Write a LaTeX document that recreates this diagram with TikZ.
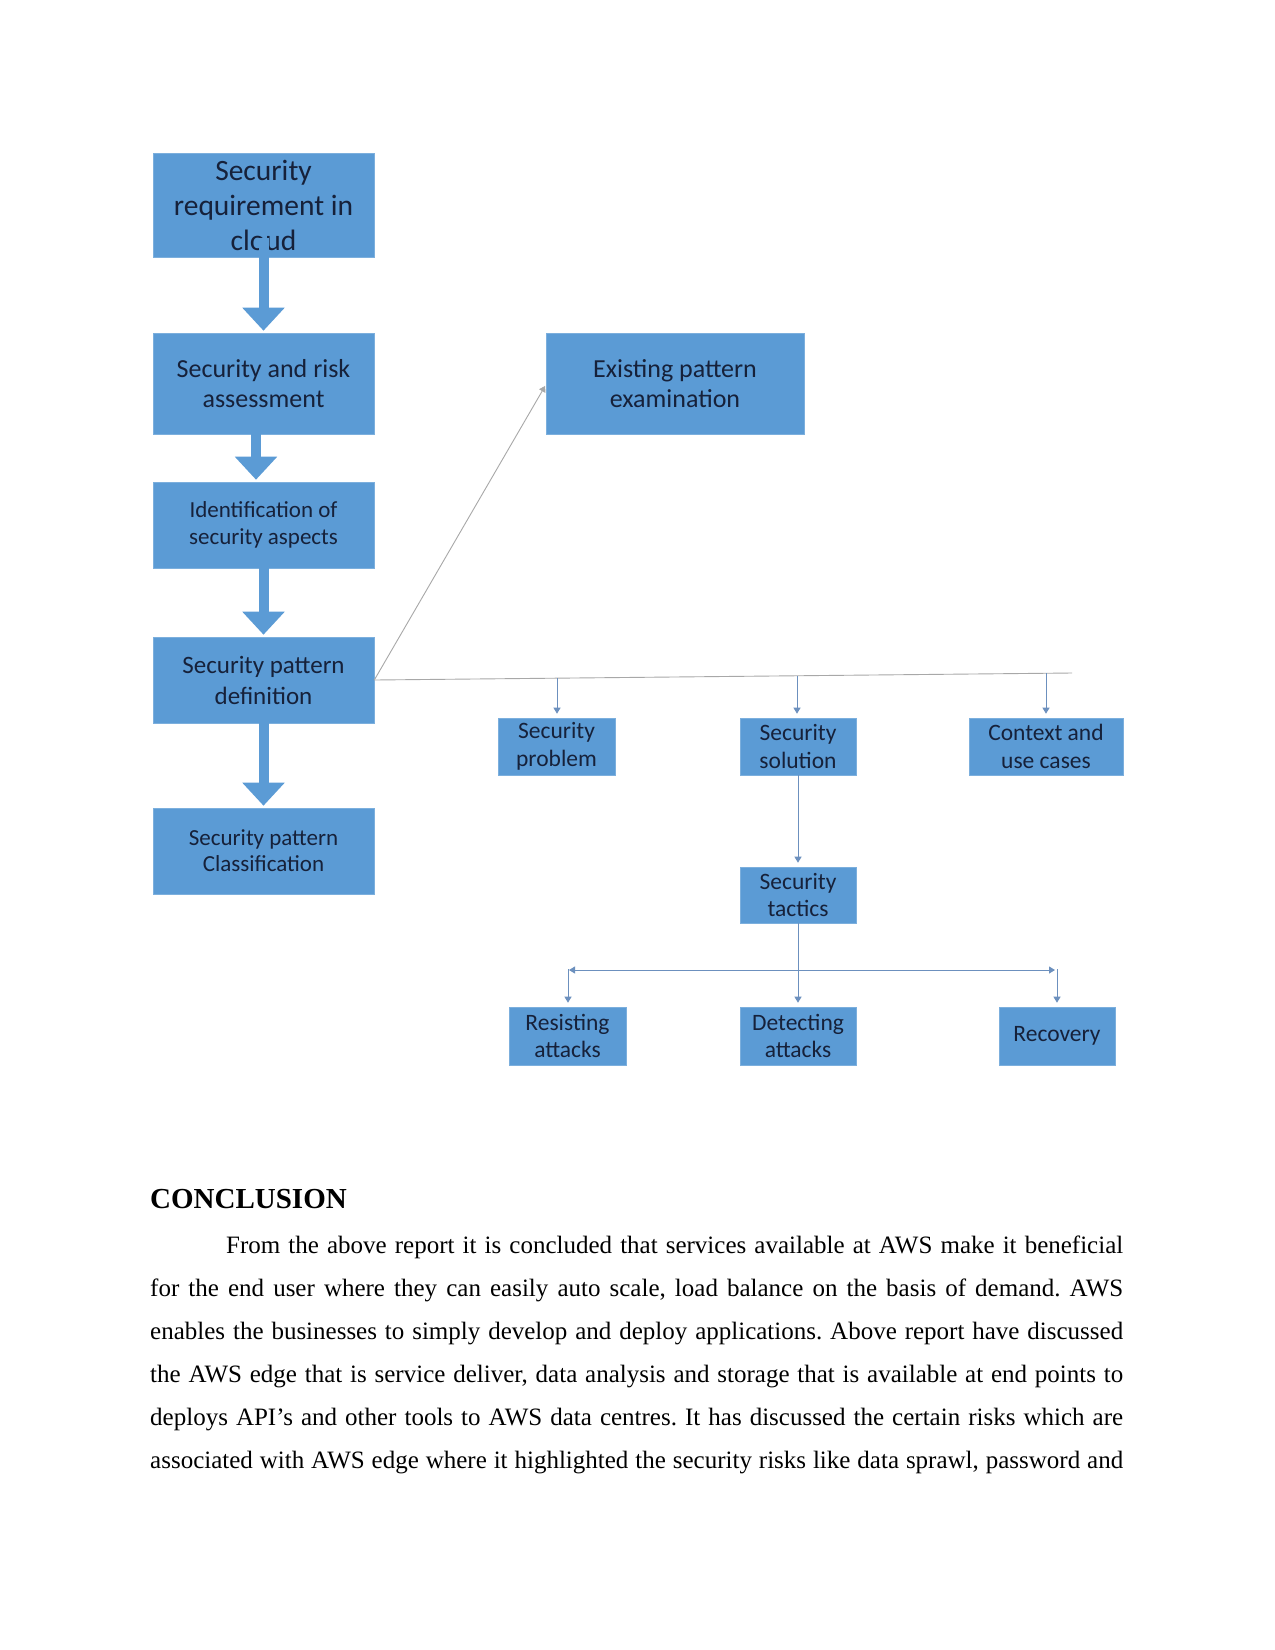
\documentclass[tikz,border=0pt]{standalone}
\usepackage{fontspec}
\setmainfont{Liberation Serif}
\newfontfamily\boxfont{Carlito}
\usetikzlibrary{arrows.meta}
\definecolor{boxblue}{HTML}{5B9BD5}
\definecolor{boxtext}{HTML}{16213A}
\definecolor{connblue}{HTML}{6C90BE}
\definecolor{conngray}{HTML}{A8A8A8}
\frenchspacing
\tikzset{
  box/.style={rectangle, fill=boxblue, draw=boxblue!80!white, line width=0.6pt,
    inner sep=0pt, align=center, text=boxtext},
  lbox/.style={box, minimum width=221pt},
  sbox/.style={box, minimum height=57pt, font=\boxfont\fontsize{23.5}{27.5}\selectfont},
  bigarr/.style={draw=boxblue, line width=10pt,
    -{Triangle[width=41pt,length=23pt]}},
  conn/.style={draw=connblue, line width=1pt,
    -{Triangle[width=7pt,length=6pt]}},
  gline/.style={draw=conngray, line width=0.9pt},
  bodyline/.style={anchor=base west, inner sep=0pt,
    font=\fontsize{25}{43}\selectfont}
}
\begin{document}
\begin{tikzpicture}[x=1pt,y=-1pt]
\useasboundingbox[fill=white] (0,0) rectangle (1275,1650);

% left column
\node[lbox, minimum height=104pt, font=\boxfont\fontsize{29.5}{35}\selectfont] (b1) at (263.5,205)
  {Security\\requirement in\\cloud};
\node[lbox, minimum height=101pt, font=\boxfont\fontsize{26}{30.5}\selectfont] (b2) at (263.5,383.5)
  {Security and risk\\assessment};
\node[lbox, minimum height=86pt, font=\boxfont\fontsize{23}{27}\selectfont] (b3) at (263.5,525)
  {Identification of\\security aspects};
\node[lbox, minimum height=86pt, font=\boxfont\fontsize{25}{31}\selectfont] (b4) at (263.5,680)
  {Security pattern\\definition};
\node[lbox, minimum height=86pt, font=\boxfont\fontsize{23}{26}\selectfont] (b5) at (263.5,851)
  {Security pattern\\Classification};

% existing pattern
\node[box, minimum width=258pt, minimum height=101pt, font=\boxfont\fontsize{26}{30.5}\selectfont] (ex) at (675,383.5)
  {Existing pattern\\examination};

% second level
\node[sbox, minimum width=117pt] (sp) at (556.5,746.5) {Security\\problem};
\node[sbox, minimum width=116pt] (ss) at (798,746.5) {Security\\solution};
\node[sbox, minimum width=154pt] (cu) at (1046,746.5) {Context and\\use cases};
\node[sbox, minimum width=116pt, minimum height=56pt] (st) at (798,895) {Security\\tactics};
\node[sbox, minimum width=117pt, minimum height=58pt] (ra) at (567.5,1036) {Resisting\\attacks};
\node[sbox, minimum width=116pt, minimum height=58pt] (da) at (798,1036) {Detecting\\attacks};
\node[sbox, minimum width=116pt, minimum height=58pt] (rc) at (1057,1036) {Recovery};

% big arrows
\draw[bigarr] ([yshift=19pt]b1.south) -- ([yshift=2pt]b2.north);
\draw[bigarr] ([xshift=-7.5pt]b2.south) -- ([xshift=-7.5pt,yshift=2pt]b3.north);
\draw[bigarr] (b3.south) -- ([yshift=2pt]b4.north);
\draw[bigarr] (b4.south) -- ([yshift=2pt]b5.north);

% connectors from definition
\coordinate (hend) at (1072,673);
\coordinate (d1) at (557,678.2);
\coordinate (d2) at (797,675.8);
\coordinate (d3) at (1046,673.3);
\draw[gline] (b4.east) -- (hend);
\draw[gline, -{Triangle[width=7pt,length=6pt]}, shorten >=1pt] (b4.east) -- ([yshift=-1.5pt]ex.west);
\draw[conn, shorten >=4pt] (d1) -- (d1 |- sp.north);
\draw[conn, shorten >=4pt] (d2) -- (d2 |- ss.north);
\draw[conn, shorten >=4pt] (d3) -- (d3 |- cu.north);

% tactics
\draw[conn, shorten >=4pt] (ss.south) -- (st.north);
\draw[conn, shorten >=4pt] (st.south) -- (da.north);
\coordinate (hl) at (569,970);
\coordinate (hr) at (1055,970);
\coordinate (vl) at (568,969);
\coordinate (vr) at (1057,969);
\draw[conn, {Triangle[width=7pt,length=6pt]}-{Triangle[width=7pt,length=6pt]}] (hl) -- (hr);
\draw[conn, shorten >=4pt] (vl) -- (vl |- ra.north);
\draw[conn, shorten >=4pt] (vr) -- (vr |- rc.north);

% conclusion text
\node[anchor=base west, inner sep=0pt, font=\bfseries\fontsize{29}{34}\selectfont] (head) at (150,1208) {CONCLUSION};
\node[bodyline] (l1) at (226,1253) {\makebox[897pt][s]{From the above report it is concluded that services available at AWS make it beneficial}};
\node[bodyline] (l2) at (150,1296) {\makebox[973pt][s]{for the end user where they can easily auto scale, load balance on the basis of demand. AWS}};
\node[bodyline] (l3) at (150,1339) {\makebox[973pt][s]{enables the businesses to simply develop and deploy applications. Above report have discussed}};
\node[bodyline] (l4) at (150,1382) {\makebox[973pt][s]{the AWS edge that is service deliver, data analysis and storage that is available at end points to}};
\node[bodyline] (l5) at (150,1425) {\makebox[973pt][s]{deploys API’s and other tools to AWS data centres. It has discussed the certain risks which are}};
\node[bodyline] (l6) at (150,1468) {\makebox[973pt][s]{associated with AWS edge where it highlighted the security risks like data sprawl, password and}};
\end{tikzpicture}
\end{document}
